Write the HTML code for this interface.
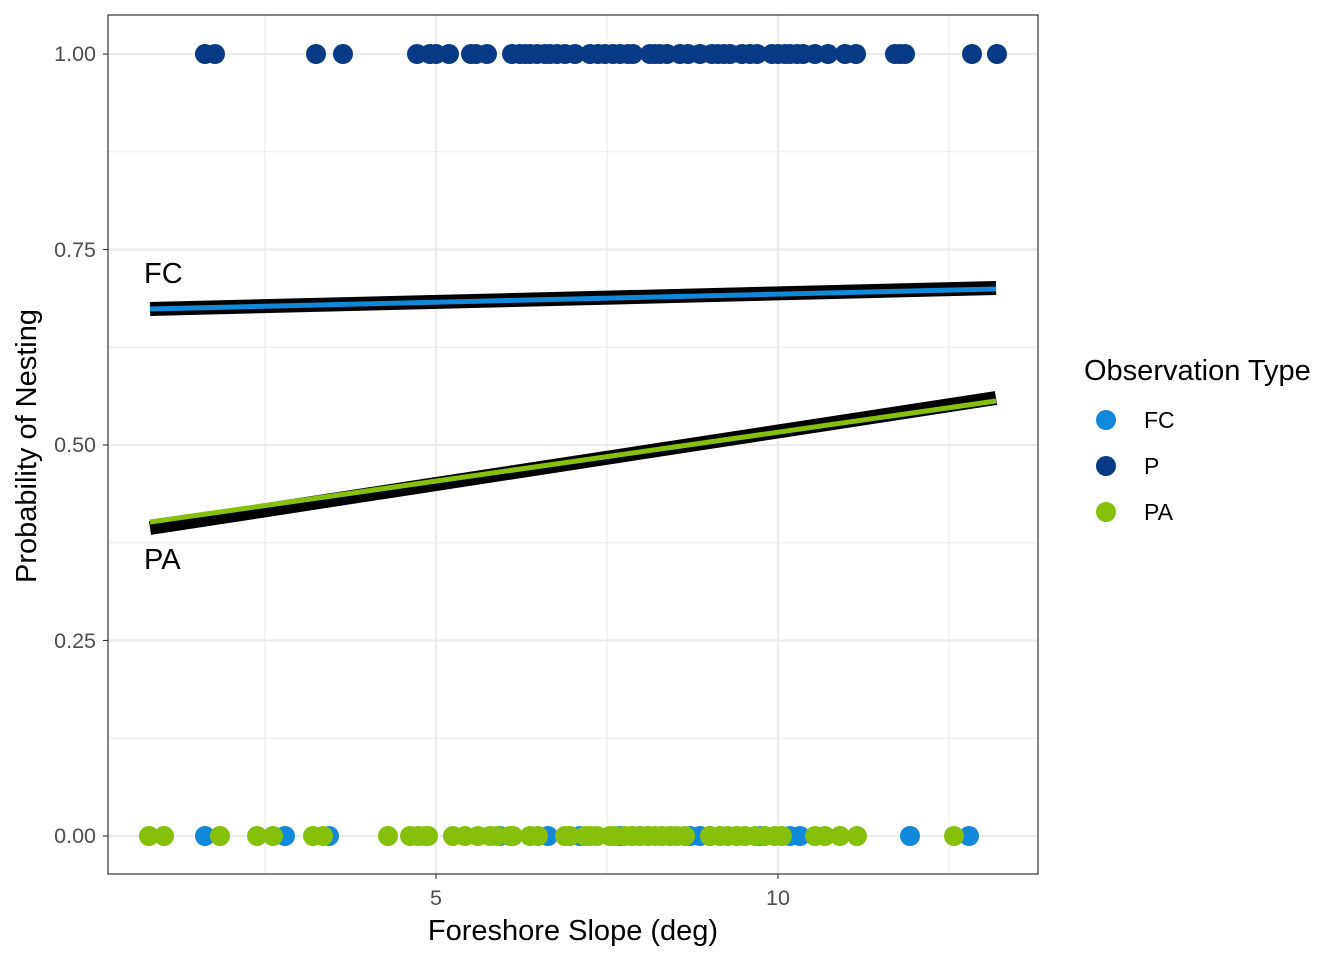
<!DOCTYPE html><html><head><meta charset="utf-8"><style>body{margin:0;background:#fff}svg{display:block;font-family:"Liberation Sans",sans-serif}</style></head><body>
<svg width="1344" height="960" xmlns="http://www.w3.org/2000/svg">
<g stroke="#ebebeb" stroke-width="1.1">
<line x1="108" x2="1038" y1="151.75" y2="151.75"/><line x1="108" x2="1038" y1="347.25" y2="347.25"/><line x1="108" x2="1038" y1="542.75" y2="542.75"/><line x1="108" x2="1038" y1="738.25" y2="738.25"/>
<line y1="15" y2="874" x1="265" x2="265"/><line y1="15" y2="874" x1="607" x2="607"/><line y1="15" y2="874" x1="949" x2="949"/>
</g>
<g stroke="#ebebeb" stroke-width="2.2">
<line x1="108" x2="1038" y1="54" y2="54"/><line x1="108" x2="1038" y1="249.5" y2="249.5"/><line x1="108" x2="1038" y1="445" y2="445"/><line x1="108" x2="1038" y1="640.5" y2="640.5"/><line x1="108" x2="1038" y1="836" y2="836"/>
<line y1="15" y2="874" x1="436" x2="436"/><line y1="15" y2="874" x1="778" x2="778"/>
</g>
<g id="pts"></g>
<line x1="150" y1="309" x2="996" y2="288" stroke="#000" stroke-width="14"/>
<line x1="150" y1="309" x2="996" y2="289" stroke="#1188d8" stroke-width="5"/>
<line x1="150" y1="528" x2="996" y2="398" stroke="#000" stroke-width="14"/>
<line x1="150" y1="522" x2="996" y2="401" stroke="#86c00a" stroke-width="5"/>
<text x="144" y="283" font-size="29">FC</text><text x="144" y="569" font-size="29">PA</text>
<rect x="108" y="15" width="930" height="859" fill="none" stroke="#333" stroke-width="1.2"/>
<g font-size="21.5" fill="#4d4d4d" text-anchor="end">
<text x="96" y="61">1.00</text><text x="96" y="257">0.75</text><text x="96" y="452">0.50</text><text x="96" y="648">0.25</text><text x="96" y="843">0.00</text></g>
<g stroke="#333" stroke-width="1.1"><line x1="103" x2="108" y1="54" y2="54"/><line x1="103" x2="108" y1="249.5" y2="249.5"/><line x1="103" x2="108" y1="445" y2="445"/><line x1="103" x2="108" y1="640.5" y2="640.5"/><line x1="103" x2="108" y1="836" y2="836"/><line x1="436" x2="436" y1="874" y2="879"/><line x1="778" x2="778" y1="874" y2="879"/></g>
<g font-size="21.5" fill="#4d4d4d" text-anchor="middle"><text x="436" y="905">5</text><text x="778" y="905">10</text></g>
<text x="573" y="940" font-size="29" text-anchor="middle">Foreshore Slope (deg)</text>
<text transform="translate(36,446) rotate(-90)" font-size="29" text-anchor="middle">Probability of Nesting</text>
<text x="1084" y="380" font-size="29">Observation Type</text>
<circle cx="1106" cy="420" r="10" fill="#1188d8"/><circle cx="1106" cy="466" r="10" fill="#073a84"/><circle cx="1106" cy="512" r="10" fill="#86c00a"/>
<g font-size="23"><text x="1144" y="428">FC</text><text x="1144" y="474">P</text><text x="1144" y="520">PA</text></g>
</svg>
<script>
var g=document.getElementById('pts'),ns='http://www.w3.org/2000/svg';
function add(xs,y,c){xs.forEach(function(x){var e=document.createElementNS(ns,'circle');e.setAttribute('cx',x);e.setAttribute('cy',y);e.setAttribute('r',10);e.setAttribute('fill',c);g.appendChild(e);});}
add([205,215,316,343,417,430,436,449,471,476,487,512,520,525,530,537,545,550,557,565,575,590,598,605,613,620,628,633,650,655,660,667,680,688,700,712,718,724,730,742,750,757,772,778,785,790,797,803,815,828,845,856,895,900,905,972,997],54,'#073a84');
add([205,285,329,500,548,580,620,640,690,700,710,760,790,800,910,969],836,'#1188d8');
add([149,164,220,257,273,313,323,388,410,418,425,428,453,465,478,490,497,510,513,530,538,565,570,585,590,597,610,615,625,632,640,648,655,662,670,677,685,710,720,728,737,745,755,765,775,782,815,825,840,857,954],836,'#86c00a');
</script>
</body></html>
